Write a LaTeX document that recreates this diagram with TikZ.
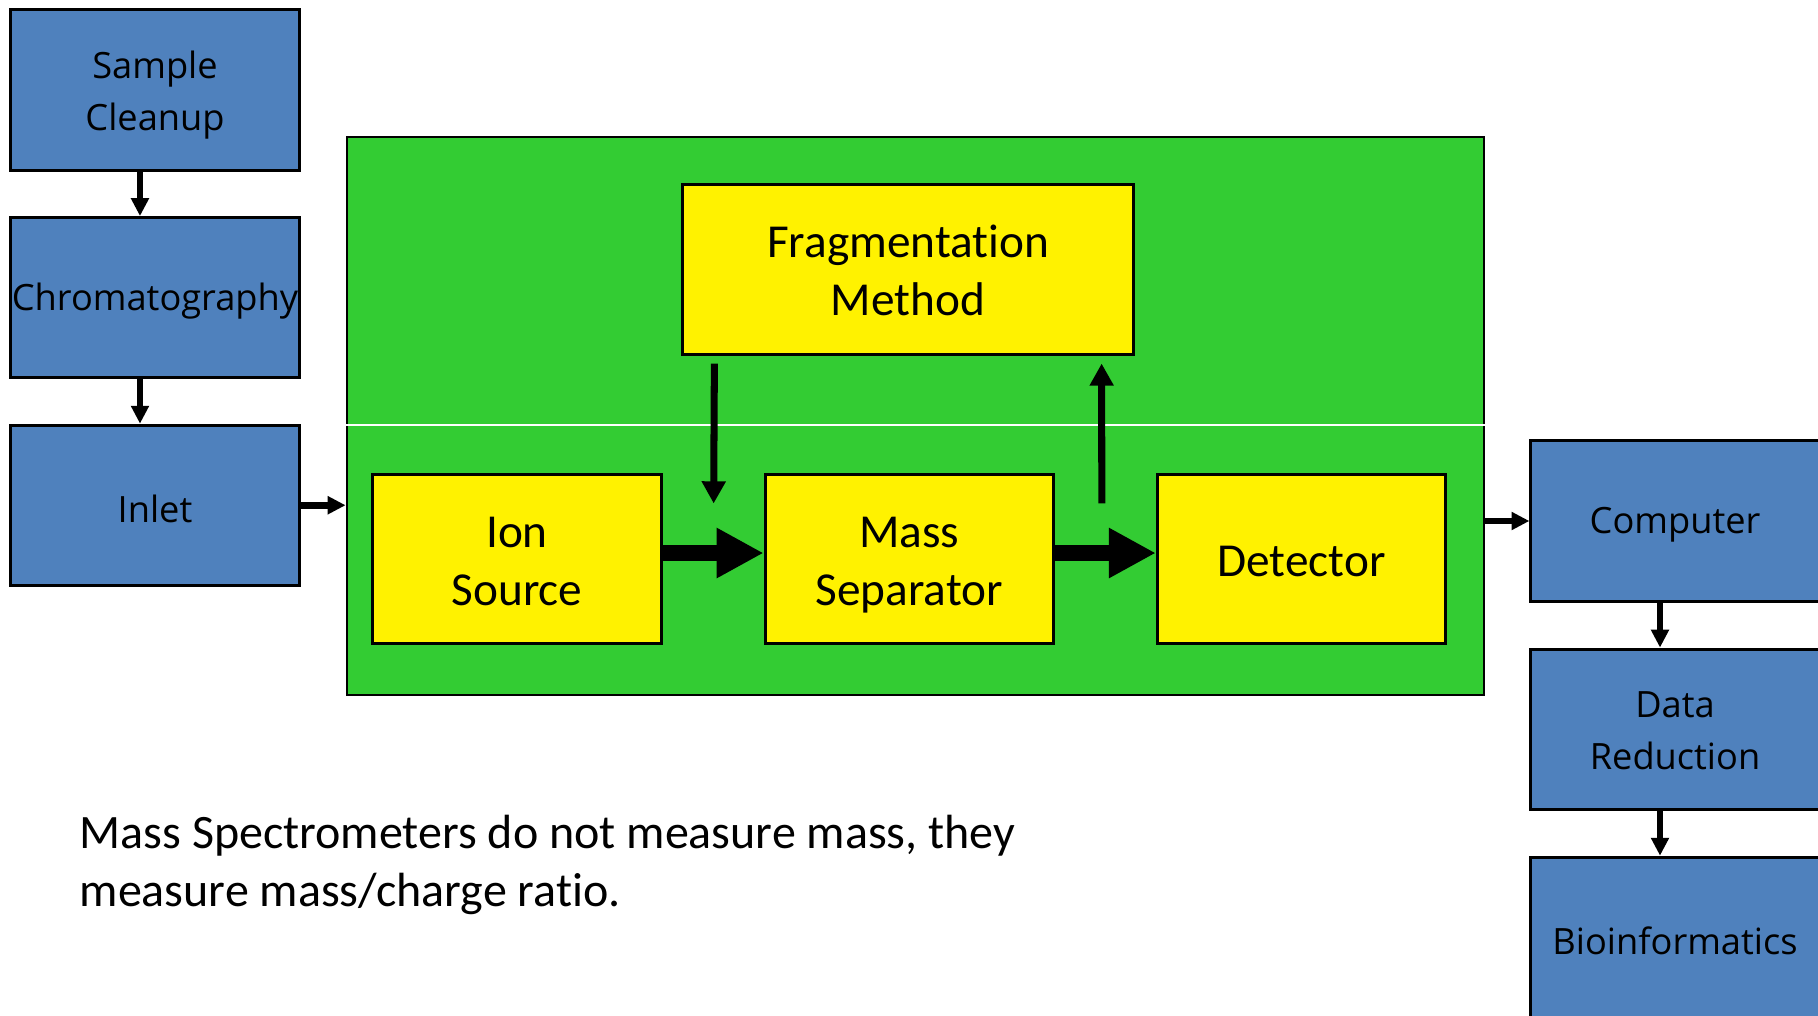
\documentclass[tikz,border=0pt]{standalone}
\usepackage{fontspec}
\setmainfont{Carlito}[Ligatures=NoCommon]
\newfontfamily\stagefont{Open Sans}
\usepackage{tikz}
\usetikzlibrary{calc, arrows.meta}
\definecolor{stageblue}{HTML}{4F81BD}
\definecolor{msgreen}{HTML}{33CC33}
\tikzstyle{stage}=[draw, line width=0.85pt, fill=stageblue, minimum width=2.88cm,
minimum height=1.6cm, inner sep=0pt, align=center, font=\stagefont\fontsize{10.3}{14.8}\selectfont,
execute at begin node={\rule{0pt}{9.8pt}}]
\tikzstyle{stagepair}=[stage, text height=25pt, text depth=2pt]
\tikzstyle{unit}=[draw, line width=0.85pt, fill=yellow, minimum width=2.88cm,
minimum height=1.68cm, inner sep=0pt, align=center, font=\fontsize{13.45}{16.5}\selectfont,
execute at begin node={\rule{0pt}{10.1pt}}]
\tikzstyle{unitpair}=[unit, text height=28.2pt, text depth=2pt]
\tikzstyle{flow}=[-{Triangle[length=5.1pt,width=4.9pt]}, line width=1.9pt]
\tikzstyle{feed}=[-{Triangle[length=6.3pt,width=6.5pt]}, line width=2pt]
\tikzstyle{beam}=[-{Triangle[length=13.4pt,width=13.4pt]}, line width=4.55pt]

\begin{document}
\begin{tikzpicture}[x=0.01cm, y=-0.01cm, node distance=2.075cm]
  \clip (0,0) rectangle (1818,1016);
  \fill[white] (0,0) rectangle (1818,1016);
  % sample preparation
  \node [stagepair] (clean) at (155,90) {Sample\\Cleanup};
  \node [stage] (chrom) [below of=clean] {Chromatography};
  \node [stage] (inlet) [below of=chrom] {Inlet};
  % the instrument itself
  \node [draw, line width=0.6pt, fill=msgreen, minimum width=11.37cm, minimum height=5.58cm] (ms) at (915.5,416) {};
  \coordinate (split) at (0,425);
  \draw[white, line width=0.4pt] (ms.west |- split) -- (ms.east |- split);
  \node [unitpair, minimum width=4.5cm, minimum height=1.69cm] (frag) at (908,269.5) {Fragmentation\\Method};
  \node [unitpair] (ion) at (517,559) {Ion\\Source};
  \node [unitpair, node distance=3.92cm] (sep) [right of=ion] {Mass\\Separator};
  \node [unit, node distance=3.92cm] (det) [right of=sep] {Detector};
  % data handling
  \node [stage] (comp) at (1675,521) {Computer};
  \node [stagepair, node distance=2.08cm] (red) [below of=comp] {Data\\Reduction};
  \node [stage, node distance=2.08cm] (bio) [below of=red] {Bioinformatics};
  \node [anchor=west, align=left, inner sep=0pt, font=\fontsize{13.65}{16.5}\selectfont] (note) at (79,865)
    {Mass Spectrometers do not measure mass, they\\measure mass/charge ratio.};
  % arrows
  \draw[flow] ([xshift=-0.15cm]clean.south) -- ([xshift=-0.15cm]chrom.north);
  \draw[flow] ([xshift=-0.15cm]chrom.south) -- ([xshift=-0.15cm]inlet.north);
  \draw[flow] (inlet) -- (inlet -| ms.west);
  \draw[beam] ([yshift=1.7pt]ion.east) -- ([yshift=1.7pt]sep.west);
  \draw[beam] ([yshift=1.7pt]sep.east) -- ([yshift=1.7pt]det.west);
  \draw[feed] ([shift={(33,8)}]frag.south west) -- ([shift={(-50,30)}]sep.north west);
  \draw[feed] ([shift={(47,30)}]sep.north east) -- ([shift={(-33,8)}]frag.south east);
  \draw[flow] (ms.east |- comp) -- (comp);
  \draw[flow] ([xshift=-0.15cm]comp.south) -- ([xshift=-0.15cm]red.north);
  \draw[flow] ([xshift=-0.15cm]red.south) -- ([xshift=-0.15cm]bio.north);
\end{tikzpicture}
\end{document}
